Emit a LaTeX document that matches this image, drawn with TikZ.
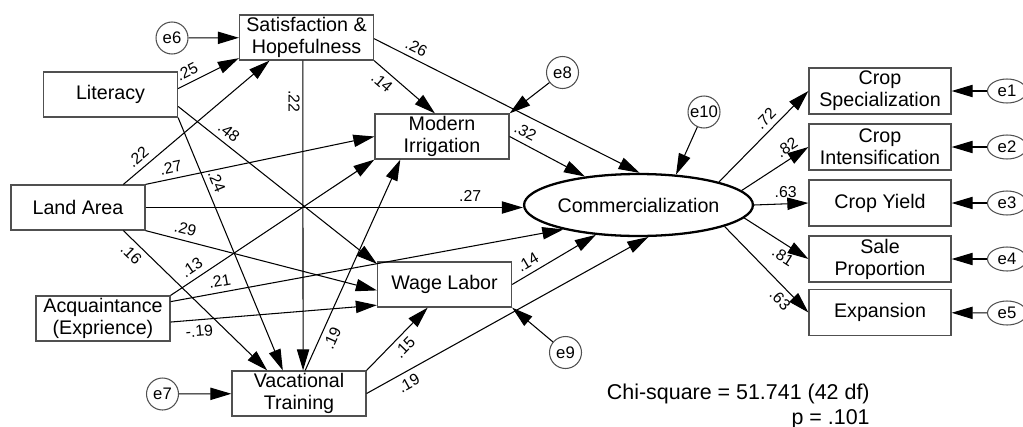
\documentclass[tikz,border=0pt]{standalone}
\usepackage{fontspec}
\setmainfont{Liberation Sans}
\usepackage{tikz}
\usetikzlibrary{positioning,
                calc,
                arrows.meta,
                shapes.geometric}
\definecolor{boxgray}{HTML}{505050}

\begin{document}
\begin{tikzpicture}[x=0.02cm,y=-0.02cm]

\tikzset{
obsbox/.style={
draw=boxgray,
line width=0.7pt,
minimum width=2.68cm,
minimum height=0.9cm,
inner sep=0pt,
align=center,
font=\fontsize{11.2}{12.6}\selectfont
},
indbox/.style={
obsbox,
minimum width=2.84cm,
minimum height=0.92cm
},
latentoval/.style={
ellipse,
draw=black,
line width=1.3pt,
minimum width=3.42cm,
minimum height=1.24cm,
inner sep=0pt,
font=\fontsize{11.2}{12.6}\selectfont
},
errcircle/.style={
circle,
draw=boxgray,
line width=0.6pt,
minimum size=0.64cm,
inner sep=0pt,
font=\fontsize{9.5}{10}\selectfont
},
errellipse/.style={
ellipse,
draw=boxgray,
line width=0.6pt,
minimum width=0.78cm,
minimum height=0.48cm,
inner sep=0pt,
font=\fontsize{9.5}{10}\selectfont
},
pathline/.style={
-{Triangle[length=12pt,width=7pt]},
line width=0.6pt
},
coef/.style={
font=\fontsize{9}{10}\selectfont,
inner sep=1.5pt
}
}

\useasboundingbox (0,0) rectangle (1023,426);

%--------------------------------------------------
% EXOGENOUS VARIABLES
%--------------------------------------------------

\node[obsbox] (lit) at (110.5,94.5) {Literacy};
\node[obsbox] (land) at (78,207.5) {Land Area};
\node[obsbox] (acq) at (103,318.5) {Acquaintance\\(Exprience)};

%--------------------------------------------------
% MEDIATORS
%--------------------------------------------------

\node[obsbox] (sat) at (306.5,37.5) {Satisfaction \&\\Hopefulness};
\node[obsbox] (vac) at (299,393.5) {Vacational\\Training};
\node[obsbox] (mi) at (442,136.5) {Modern\\Irrigation};
\node[obsbox] (wl) at (444.5,284.5) {Wage Labor};

\node[errcircle] (e6) at (172,38) {e6};
\node[errcircle] (e7) at (162.5,394) {e7};
\node[errcircle] (e8) at (562.5,72.5) {e8};
\node[errcircle] (e9) at (565.5,352.5) {e9};

%--------------------------------------------------
% LATENT AND INDICATORS
%--------------------------------------------------

\node[latentoval] (comm) at (638.5,205) {Commercialization};
\node[errcircle] (e10) at (704,112) {e10};

\node[indbox] (cs) at (880,91) {Crop\\Specialization};
\node[indbox] (ci) at (880,147) {Crop\\Intensification};
\node[indbox] (cy) at (880,203) {Crop Yield};
\node[indbox] (sp) at (880,259) {Sale\\Proportion};
\node[indbox] (ex) at (880,312.5) {Expansion};

\node[errellipse] (e1) at (1007,91) {e1};
\node[errellipse] (e2) at (1007,147) {e2};
\node[errellipse] (e3) at (1007,203) {e3};
\node[errellipse] (e4) at (1007,259) {e4};
\node[errellipse] (e5) at (1007,313) {e5};

%--------------------------------------------------
% PATHS
%--------------------------------------------------

\draw[pathline] (lit.5) -- (sat.197) node[coef,pos=0.23,sloped,above=1.5pt] {.25};
\draw[pathline] (lit.-10) -- (wl.163) node[coef,pos=0.22,sloped,above=1.5pt] {.48};
\draw[pathline] (lit.south east) -- (vac.125) node[coef,pos=0.27,sloped,above=1.5pt] {.24};

\draw[pathline] (land.27) -- (sat.212) node[coef,pos=0.15,sloped,above=1.5pt] {.22};
\draw[pathline] (land.north east) -- (mi.west) node[coef,pos=0.12,sloped,above=1.5pt] {.27};
\draw[pathline] (land.east) -- (land.east -| comm.west) node[coef,pos=0.86,above=1.5pt] {.27};
\draw[pathline] (land.south east) -- (wl.185) node[coef,pos=0.16,sloped,above=1.5pt] {.29};
\draw[pathline] (land.-27) -- (vac.144) node[coef,pos=0.11,sloped,below=1.5pt] {.16};

\draw[pathline] (acq.north east) -- (mi.south west) node[coef,pos=0.135,sloped,above=1.5pt] {.13};
\draw[pathline] (acq.14) -- (comm.198) node[coef,pos=0.13,sloped,above=1.5pt] {.21};
\draw[pathline] (acq.-3) -- (wl.197) node[coef,pos=0.135,sloped,below=1.5pt] {-.19};

\draw[pathline] (sat.-99) -- (vac.80) node[coef,pos=0.12,rotate=-90,below=2pt] {.22};
\draw[pathline] (sat.south east) -- (mi.107) node[coef,pos=0.25,sloped,below=1.5pt] {.14};
\draw[pathline] (sat.-1) -- (comm.88) node[coef,pos=0.14,sloped,above=1.5pt] {.26};

\draw[pathline] (vac.75) -- (mi.209) node[coef,pos=0.175,sloped,below=1.5pt] {.19};
\draw[pathline] (vac.north east) -- (wl.234) node[coef,pos=0.49,sloped,below=1.5pt] {.15};
\draw[pathline] (vac.east) -- (comm.-73) node[coef,pos=0.13,sloped,below=1.5pt] {.19};

\draw[pathline] (mi.east) -- (comm.152) node[coef,pos=0.14,sloped,above=1.5pt] {.32};
\draw[pathline] (wl.east) -- (comm.215) node[coef,pos=0.255,sloped,above=1.5pt] {.14};

% error terms
\draw[pathline] (e6) -- (sat);
\draw[pathline] (e7) -- (vac);
\draw[pathline] (e8) -- (mi.north east);
\draw[pathline] (e9) -- (wl.south east);
\draw[pathline] (e10) -- (comm.39);

%--------------------------------------------------
% LOADINGS
%--------------------------------------------------

\draw[pathline] (comm.16) -- (cs.west) node[coef,pos=0.61,sloped,above=1.5pt] {.72};
\draw[pathline] (comm.8) -- (ci.west) node[coef,pos=0.77,sloped,above=1.5pt] {.82};
\draw[pathline] (comm.east) -- (cy.west) node[coef,pos=0.58,above=1.5pt] {.63};
\draw[pathline] (comm.-7) -- (sp.west) node[coef,pos=0.70,sloped,below=1.5pt] {.81};
\draw[pathline] (comm.-14) -- (ex.west) node[coef,pos=0.76,sloped,below=1.5pt] {.63};

\draw[pathline] (e1) -- (cs);
\draw[pathline] (e2) -- (ci);
\draw[pathline] (e3) -- (cy);
\draw[pathline] (e4) -- (sp);
\draw[pathline] (e5) -- (ex);

%--------------------------------------------------
% FIT
%--------------------------------------------------

\node[font=\fontsize{12.2}{14.2}\selectfont,align=right,anchor=north east,inner sep=0pt]
(chisq) at (870,384)
{Chi-square = 51.741 (42 df)\\p = .101};

\end{tikzpicture}
\end{document}
